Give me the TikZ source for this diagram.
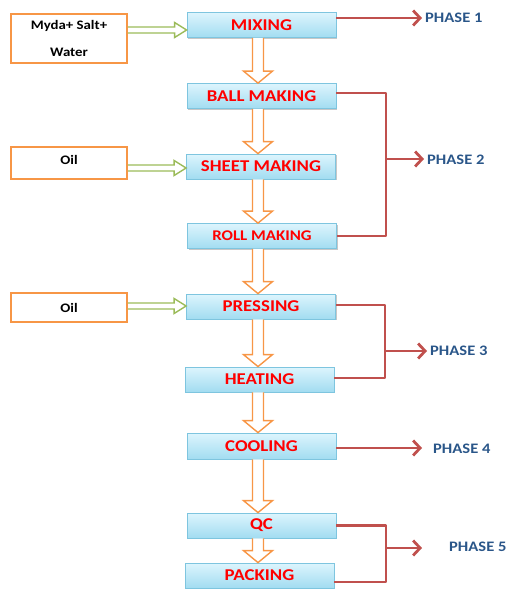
\documentclass[tikz,border=0pt]{standalone}
\usepackage{fontspec}
\setmainfont{Carlito}
\newfontfamily\widefont[FakeStretch=1.14]{Carlito}
\usetikzlibrary{arrows.meta,calc,shadows}
\definecolor{boxtop}{HTML}{DDF5FD}
\definecolor{boxbot}{HTML}{A2DCF1}
\definecolor{boxborder}{HTML}{7EC5DF}
\definecolor{redtxt}{HTML}{FF0000}
\definecolor{redln}{HTML}{C0504D}
\definecolor{orangeln}{HTML}{F79646}
\definecolor{greenln}{HTML}{9BBB59}
\definecolor{phasetxt}{HTML}{2A5689}
\tikzset{
  procbox/.style={draw=boxborder, line width=0.8pt, top color=boxtop, bottom color=boxbot,
    minimum width=149pt, minimum height=25pt, inner sep=0pt, text=redtxt,
    font=\widefont\bfseries\fontsize{16.5}{18}\selectfont,
    drop shadow={shadow xshift=1.2pt, shadow yshift=-1.4pt, fill=black, opacity=0.22}},
  inbox/.style={draw=orangeln, line width=1.6pt, fill=white, minimum width=116pt, inner sep=0pt,
    font=\widefont\bfseries\fontsize{13}{15}\selectfont, text=black},
  phase/.style={anchor=west, inner sep=0pt, text=phasetxt, font=\widefont\bfseries\fontsize{14.5}{16}\selectfont},
  greenarr/.style={draw=greenln, line width=1.4pt, line join=miter},
  orangearr/.style={draw=orangeln, line width=1.4pt, fill=white, line join=miter},
  redconn/.style={draw=redln, line width=2.8pt, line join=round},
  redarr/.style={redconn, -{Straight Barb[length=7pt,width=15pt]}, shorten >=3pt},
}
\newcommand\hblockarrow[3]{%
  \draw[greenarr] ($(#1.east |- #3)+(0,-3)$) -- ($(#2.west |- #3)+(-12,-3)$) -- ($(#2.west |- #3)+(-12,-7.5)$)
    -- (#2.west |- #3) -- ($(#2.west |- #3)+(-12,7.5)$) -- ($(#2.west |- #3)+(-12,3)$) -- ($(#1.east |- #3)+(0,3)$);}
\newcommand\vblockarrow[2]{%
  \draw[orangearr] ($(#1.south -| ax)+(-5.5,0)$) -- ($(#2.north -| ax)+(-5.5,-12)$) -- ($(#2.north -| ax)+(-14.5,-12)$)
    -- (#2.north -| ax) -- ($(#2.north -| ax)+(14.5,-12)$) -- ($(#2.north -| ax)+(5.5,-12)$) -- ($(#1.south -| ax)+(5.5,0)$);}
\begin{document}
\begin{tikzpicture}[x=1pt,y=-1pt]
\useasboundingbox (0,0) rectangle (508,589);
% process boxes
\node[procbox] (mix) at (261.5,25) {MIXING};
\node[procbox] (ball) at (261.5,96) {BALL MAKING};
\node[procbox] (sheet) at (261,166.5) {SHEET MAKING};
\node[procbox, font=\widefont\bfseries\fontsize{14.8}{17}\selectfont] (roll) at (262,236) {ROLL MAKING};
\node[procbox] (press) at (261,306.5) {PRESSING};
\node[procbox] (heat) at (259.5,379.5) {HEATING};
\node[procbox, minimum height=26pt] (cool) at (261.5,446) {COOLING};
\node[procbox] (qc) at (261.5,525.5) {QC};
\node[procbox] (pack) at (259.5,575.5) {PACKING};
% inputs
\node[inbox, minimum height=49pt, align=center, font=\widefont\bfseries\fontsize{13}{27}\selectfont] (in1) at (69,38.5) {Myda+ Salt+\\Water};
\node[inbox, minimum height=32pt, text depth=6pt] (in2) at (69,163) {Oil};
\node[inbox, minimum height=29pt] (in3) at (69,307.5) {Oil};
% helper coordinates
\coordinate (ax) at (258,0);
\coordinate (g1) at (0,30);
\coordinate (g2) at (0,168);
\coordinate (g3) at (0,306);
% green input arrows
\hblockarrow{in1}{mix}{g1}
\hblockarrow{in2}{sheet}{g2}
\hblockarrow{in3}{press}{g3}
% orange flow arrows
\vblockarrow{mix}{ball}
\vblockarrow{ball}{sheet}
\vblockarrow{sheet}{roll}
\vblockarrow{roll}{press}
\vblockarrow{press}{heat}
\vblockarrow{heat}{cool}
\vblockarrow{cool}{qc}
\vblockarrow{qc}{pack}
% phase labels
\node[phase] (p1) at (425,18) {PHASE 1};
\node[phase] (p2) at (427,160) {PHASE 2};
\node[phase] (p3) at (430,351) {PHASE 3};
\node[phase] (p4) at (433,449) {PHASE 4};
\node[phase] (p5) at (449,547) {PHASE 5};
% junctions
\coordinate (j2) at (386,159);
\coordinate (j3) at (385,351);
\coordinate (j5) at (386,548);
% red connectors
\draw[redarr] (mix.east |- p1.west) -- (p1.west);
\draw[redconn] ($(ball.east)+(0,-3)$) -| (j2) |- (roll.east);
\draw[redarr] (j2) -- (j2 -| p2.west);
\draw[redconn] ($(press.east)+(0,-1.5)$) -| (j3) |- ($(heat.east)+(0,-1.5)$);
\draw[redarr] (j3) -- (j3 -| p3.west);
\draw[redarr] ($(cool.east)+(0,2)$) -- ($(cool.east -| p4.west)+(-8,2)$);
\draw[redconn] (qc.east) -| (j5) |- ($(pack.east)+(0,6.5)$);
\draw[redarr] (j5) -- ($(j5 -| p5.west)+(-24,0)$);
\end{tikzpicture}
\end{document}
